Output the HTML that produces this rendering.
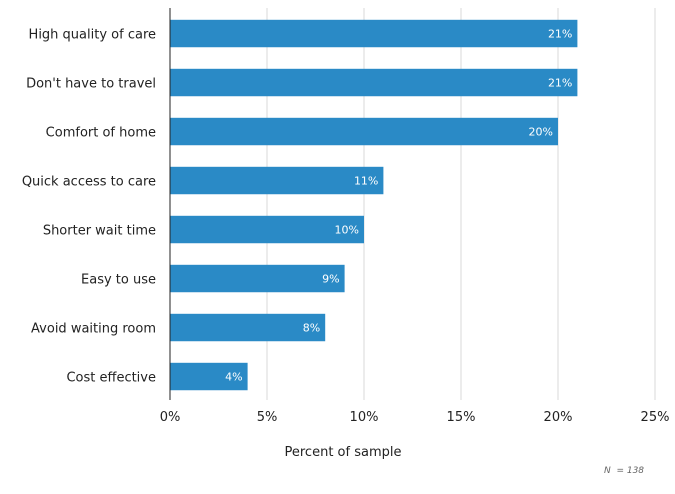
<!DOCTYPE html>
<html><head><meta charset="utf-8"><style>
body{margin:0;background:#fff;font-family:"DejaVu Sans","Liberation Sans",sans-serif;}
svg{display:block}
</style></head><body>
<svg id="chart" width="675" height="494"></svg>
<script>
const categories=["High quality of care","Don't have to travel","Comfort of home","Quick access to care","Shorter wait time","Easy to use","Avoid waiting room","Cost effective"];
const values=[21,21,20,11,10,9,8,4];
const ticks=[0,5,10,15,20,25];
const tickLabels=["0%","5%","10%","15%","20%","25%"];
const ns="http://www.w3.org/2000/svg";
const svg=document.getElementById('chart');
const x0=170,x1=655,plotTop=8,plotBottom=400;
const xs=v=>x0+(x1-x0)*v/25;
const band=(plotBottom-plotTop)/categories.length;
const ys=i=>plotTop+2+band*i+band*0.2;
const bh=band*0.56;
function mk(t,a,txt){const e=document.createElementNS(ns,t);for(const k in a)e.setAttribute(k,a[k]);if(txt!==undefined)e.textContent=txt;svg.appendChild(e);return e;}
ticks.forEach((t,i)=>{
 if(t>0){const g=mk('line',{x1:xs(t),x2:xs(t),y1:plotTop,y2:plotBottom,stroke:'#d9d9d9','stroke-width':1});
 
 }
 const l=mk('text',{x:xs(t),y:421,'text-anchor':'middle','font-size':13,fill:'#222'},tickLabels[i]);
 
 
});
categories.forEach((c,i)=>{
 const y=ys(i);
 const r=mk('rect',{x:x0,y:y,width:xs(values[i])-x0,height:bh,fill:'#2a8ac6'});
 
 
 const v=mk('text',{x:xs(values[i])-5,y:y+bh/2+4,'text-anchor':'end','font-size':11,fill:'#fff'},values[i]+'%');
 
 
 const l=mk('text',{x:156,y:y+bh/2+5,'text-anchor':'end','font-size':13,fill:'#222'},c);
 
 
});
const ax=mk('line',{x1:x0,x2:x0,y1:plotTop,y2:plotBottom,stroke:'#222','stroke-width':1});


const tt=mk('text',{x:343,y:456,'text-anchor':'middle','font-size':13,fill:'#222'},'Percent of sample');


const n=mk('text',{x:604,y:473,'font-size':9,fill:'#666','font-style':'italic'},'N\u00a0\u00a0= 138');


</script>
</body></html>
